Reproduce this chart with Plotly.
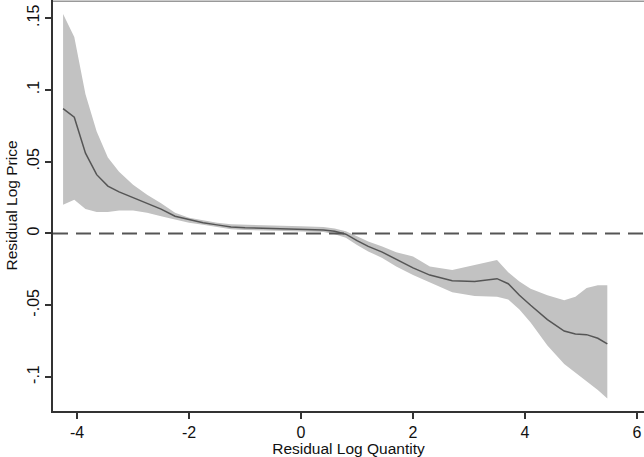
import plotly.graph_objects as go

x_vals = [-4.25, -4.05, -3.85, -3.65, -3.45, -3.25, -3.0, -2.75, -2.5, -2.25, -2.0, -1.75,
          -1.5, -1.25, -1.0, -0.5, 0.0, 0.4, 0.6, 0.8, 1.0, 1.2, 1.45, 1.7, 2.0, 2.3, 2.7,
          3.1, 3.5, 3.7, 3.9, 4.1, 4.4, 4.7, 4.9, 5.1, 5.3, 5.47]
mean_vals = [0.087, 0.081, 0.056, 0.041, 0.033, 0.029, 0.025, 0.021, 0.017, 0.012, 0.0095, 0.0075,
             0.006, 0.0045, 0.004, 0.0035, 0.003, 0.0025, 0.0015, -0.0005, -0.005, -0.009, -0.013,
             -0.018, -0.024, -0.029, -0.033, -0.0335, -0.0315, -0.035, -0.043, -0.050, -0.060,
             -0.068, -0.070, -0.0705, -0.073, -0.077]
upper_vals = [0.153, 0.137, 0.097, 0.071, 0.053, 0.043, 0.034, 0.027, 0.021, 0.0145, 0.011, 0.009,
              0.0075, 0.0065, 0.006, 0.0055, 0.005, 0.0045, 0.0035, 0.0015, -0.002, -0.0055, -0.009,
              -0.013, -0.016, -0.023, -0.0255, -0.022, -0.0185, -0.027, -0.0335, -0.0385, -0.043,
              -0.0465, -0.044, -0.038, -0.036, -0.036]
lower_vals = [0.020, 0.0235, 0.017, 0.015, 0.015, 0.016, 0.016, 0.0145, 0.012, 0.0095, 0.0075, 0.006,
              0.0045, 0.003, 0.0025, 0.002, 0.0015, 0.001, -0.0005, -0.003, -0.008, -0.0125, -0.017,
              -0.023, -0.029, -0.034, -0.041, -0.0435, -0.044, -0.046, -0.053, -0.062, -0.078,
              -0.091, -0.097, -0.103, -0.109, -0.115]

x_ticks = [-4, -2, 0, 2, 4, 6]
x_tick_labels = ["-4", "-2", "0", "2", "4", "6"]
y_ticks = [-0.1, -0.05, 0, 0.05, 0.1, 0.15]
y_tick_labels = ["-.1", "-.05", "0", ".05", ".1", ".15"]

FONT = "Liberation Sans, Arial, Helvetica, sans-serif"

fig = go.Figure()
fig.add_trace(go.Scatter(x=x_vals, y=lower_vals, mode="lines", line=dict(width=0, color="#c2c2c2"),
                         showlegend=False, hoverinfo="skip"))
fig.add_trace(go.Scatter(x=x_vals, y=upper_vals, mode="lines", line=dict(width=0, color="#c2c2c2"),
                         fill="tonexty", fillcolor="#c2c2c2", showlegend=False, hoverinfo="skip"))
fig.add_trace(go.Scatter(x=x_vals, y=mean_vals, mode="lines", line=dict(width=1.5, color="#555555"),
                         showlegend=False))

fig.add_shape(type="line", xref="paper", yref="y", x0=0, x1=1, y0=0, y1=0,
              line=dict(color="#555555", width=2, dash="15px,8px"))
fig.add_shape(type="line", xref="paper", yref="paper", x0=0, x1=1, y0=0.997, y1=0.997,
              line=dict(color="#999999", width=1.5))

fig.update_layout(
    width=644, height=457,
    margin=dict(l=53, r=0, t=0, b=46, autoexpand=False),
    paper_bgcolor="white", plot_bgcolor="white",
    font=dict(family=FONT, size=16, color="#111111"),
    xaxis=dict(range=[-4.43, 6.125], tickvals=x_ticks, ticktext=x_tick_labels, ticks="outside",
               ticklen=6, tickwidth=1.5, tickfont=dict(size=16),
               tickcolor="#333333", showline=True, linecolor="#333333", linewidth=2,
               showgrid=False, zeroline=False, automargin=False,
               title=dict(text="Residual Log Quantity", standoff=1, font=dict(size=15.5))),
    yaxis=dict(range=[-0.1237, 0.1627], tickvals=y_ticks, ticktext=y_tick_labels, tickangle=-90,
               ticks="outside", ticklen=6, tickwidth=1.5, tickcolor="#333333", tickfont=dict(size=16),
               showline=True, linecolor="#333333", linewidth=2, showgrid=False, zeroline=False,
               automargin=False,
               title=dict(text="Residual Log Price", standoff=3, font=dict(size=15.5))),
)

fig.write_html("out.html", config={"displayModeBar": False},
               post_script="document.body.style.margin='0';document.body.style.overflow='hidden';")
